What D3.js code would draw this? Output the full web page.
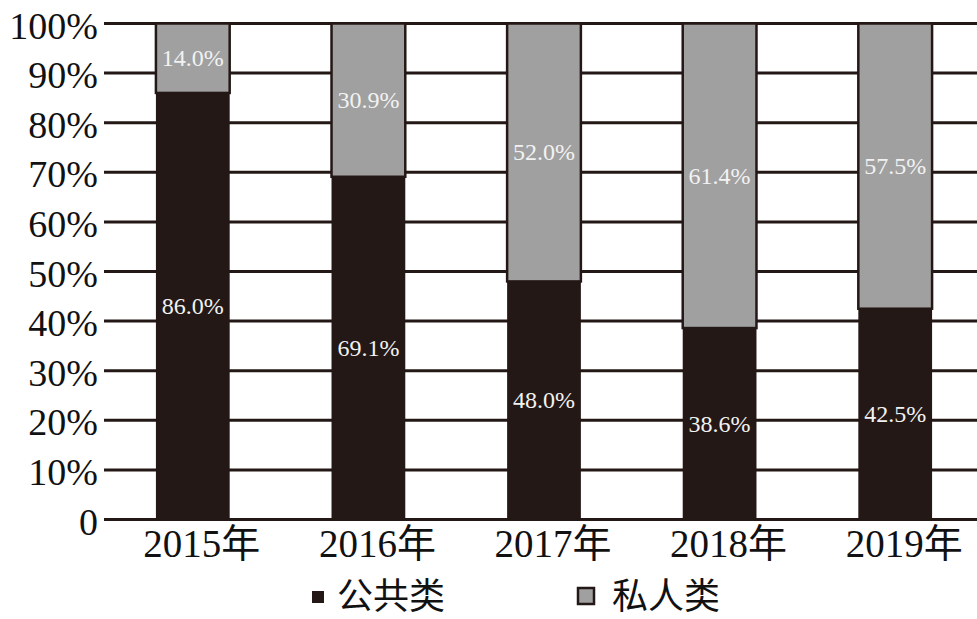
<!DOCTYPE html>
<html><head><meta charset="utf-8">
<script src="https://cdn.jsdelivr.net/npm/d3@7"></script>
<style>body{margin:0;background:#fff} .vl{font-family:"Liberation Serif","DejaVu Serif",serif;}</style>
</head><body>
<svg id="c" width="977" height="619"></svg>
<script>
const categories = ["2015年","2016年","2017年","2018年","2019年"];
const publicVals = [86.0, 69.1, 48.0, 38.6, 42.5];
const privateVals = [14.0, 30.9, 52.0, 61.4, 57.5];
const yTicks = [0,10,20,30,40,50,60,70,80,90,100];
const seriesNames = ["公共类","私人类"];

const DARK = "#231815", GRAY = "#a0a0a0";
const svg = d3.select("#c");
const x = d3.scaleBand().domain(categories).range([105, 983]).paddingInner(0.58).paddingOuter(0.29);
const y = d3.scaleLinear().domain([0,100]).range([519.5, 23.5]);

svg.append("g").selectAll("line").data(yTicks).join("line")
  .attr("x1",104).attr("x2",977)
  .attr("y1",d=>y(d)).attr("y2",d=>y(d))
  .attr("stroke",DARK).attr("stroke-width",3);

svg.append("g").selectAll("text").data(yTicks).join("text")
  .attr("x",98).attr("y",d=>y(d)+15)
  .attr("text-anchor","end")
  .attr("font-family","'Liberation Serif','Times New Roman',serif")
  .attr("font-size",38).attr("fill","#111")
  .text(d=>d===0?"0":d+"%");

const data = categories.map((c,i)=>({c, pub:publicVals[i], pri:privateVals[i]}));
const g = svg.append("g");
g.selectAll("rect.pub").data(data).join("rect").attr("class","pub")
  .attr("x",d=>x(d.c)).attr("width",x.bandwidth())
  .attr("y",d=>y(d.pub)).attr("height",d=>y(0)-y(d.pub))
  .attr("fill",DARK);
g.selectAll("rect.pri").data(data).join("rect").attr("class","pri")
  .attr("x",d=>x(d.c)).attr("width",x.bandwidth())
  .attr("y",d=>y(100)).attr("height",d=>y(d.pub)-y(100))
  .attr("fill",GRAY).attr("stroke",DARK).attr("stroke-width",2.5);

g.selectAll("text.pub").data(data).join("text").attr("class","vl pub")
  .attr("x",d=>x(d.c)+x.bandwidth()/2).attr("y",d=>y(d.pub/2)+8)
  .attr("text-anchor","middle").attr("font-size",24)
  .attr("fill","#f2f2f2").text(d=>d.pub.toFixed(1)+"%");
g.selectAll("text.pri").data(data).join("text").attr("class","vl pri")
  .attr("x",d=>x(d.c)+x.bandwidth()/2).attr("y",d=>y(d.pub+d.pri/2)+8)
  .attr("text-anchor","middle").attr("font-size",24)
  .attr("fill","#f2f2f2").text(d=>d.pri.toFixed(1)+"%");

svg.append("g").selectAll("text").data(categories).join("text")
  .attr("x",d=>x(d)+x.bandwidth()/2+9).attr("y",557)
  .attr("text-anchor","middle")
  .attr("font-family","'Liberation Serif','Noto Sans CJK SC',serif")
  .attr("font-size",39).attr("fill","#111")
  .text(d=>d);

const lg = svg.append("g");
lg.append("rect").attr("x",312).attr("y",591).attr("width",12).attr("height",12).attr("fill",DARK);
lg.append("text").attr("x",337).attr("y",609).attr("font-family","'Noto Sans CJK SC',sans-serif")
  .attr("font-size",36).attr("fill","#111").text(seriesNames[0]);
lg.append("rect").attr("x",578).attr("y",588).attr("width",16).attr("height",16)
  .attr("fill",GRAY).attr("stroke",DARK).attr("stroke-width",2.5);
lg.append("text").attr("x",612).attr("y",609).attr("font-family","'Noto Sans CJK SC',sans-serif")
  .attr("font-size",36).attr("fill","#111").text(seriesNames[1]);
</script>
</body></html>
